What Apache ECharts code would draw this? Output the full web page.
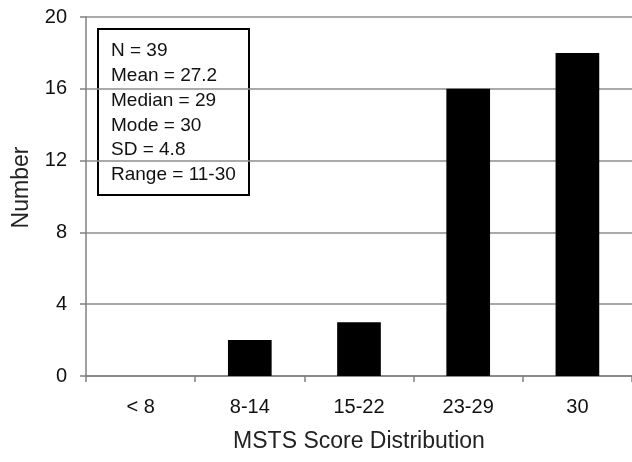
<!DOCTYPE html>
<html><head><meta charset="utf-8">
<script src="https://cdn.jsdelivr.net/npm/echarts@6/dist/echarts.min.js"></script>
<style>html,body{margin:0;padding:0;background:#fff}#c{width:632px;height:462px}</style>
</head><body><div id="c"></div>
<script>
const categories = ['< 8', '8-14', '15-22', '23-29', '30'];
const counts = [0, 2, 3, 16, 18];
const yTicks = [0, 4, 8, 12, 16, 20];
const statLines = ['N = 39', 'Mean = 27.2', 'Median = 29', 'Mode = 30', 'SD = 4.8', 'Range = 11-30'];
const xTitle = 'MSTS Score Distribution';
const yTitle = 'Number';

const font = '"Liberation Sans", Arial, sans-serif';
const chart = echarts.init(document.getElementById('c'));
chart.setOption({
  animation: false,
  backgroundColor: '#fff',
  grid: { left: 86, right: -2, top: 17, bottom: 86 },
  xAxis: {
    type: 'category', data: categories,
    name: xTitle, nameLocation: 'middle', nameGap: 54,
    nameTextStyle: { fontFamily: font, fontSize: 23, color: '#222' },
    axisLine: { lineStyle: { color: '#808080', width: 1.5 } },
    axisTick: { show: true, length: 6, lineStyle: { color: '#808080', width: 1.5 } },
    axisLabel: { fontFamily: font, fontSize: 20, color: '#111', margin: 21 }
  },
  yAxis: {
    type: 'value', min: yTicks[0], max: yTicks[yTicks.length - 1], interval: 4,
    name: yTitle, nameLocation: 'middle', nameGap: 53,
    nameTextStyle: { fontFamily: font, fontSize: 23, color: '#222', padding: [0, 0, 0, 18] },
    axisLine: { show: true, lineStyle: { color: '#808080', width: 1.5 } },
    axisTick: { show: true, length: 6, lineStyle: { color: '#808080', width: 1.5 } },
    axisLabel: { fontFamily: font, fontSize: 20, color: '#111', margin: 19 },
    splitLine: { lineStyle: { color: '#8c8c8c', width: 1.5 } }
  },
  series: [{
    type: 'bar', data: counts, barWidth: '40%',
    itemStyle: { color: '#000' }
  }],
  graphic: [{
    type: 'group', left: 97, top: 28, z: 100,
    children: [
      { type: 'rect', shape: { x: 0, y: 0, width: 151, height: 166 },
        style: { fill: '#fff', stroke: '#000', lineWidth: 2 } }
    ].concat(statLines.map((t, i) => ({
      type: 'text', x: 13, y: 22 + i * 24.8,
      style: { text: t, fontFamily: font, fontSize: 19, fill: '#111', verticalAlign: 'middle' }
    })))
  }]
});
</script></body></html>
